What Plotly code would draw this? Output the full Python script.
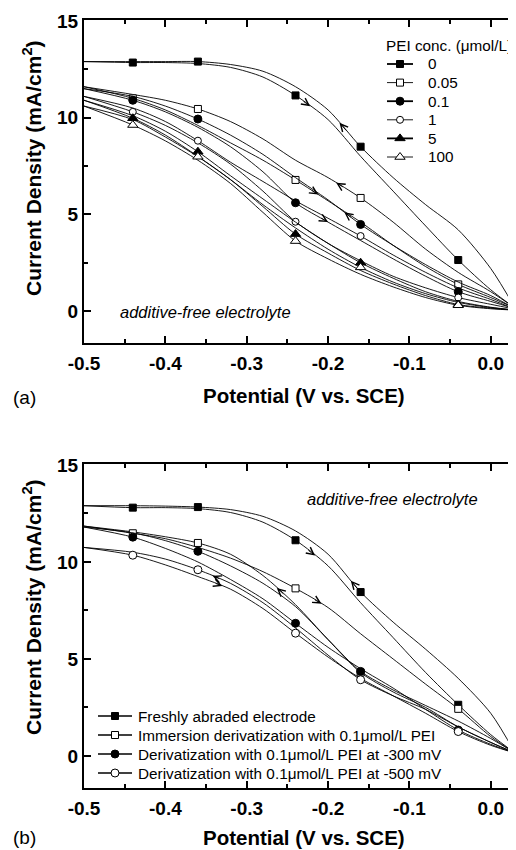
import numpy as np
import plotly.graph_objects as go

# ---------------- data ----------------
x_grid = [-0.5, -0.44, -0.4, -0.36, -0.32, -0.28, -0.24, -0.2, -0.16, -0.12, -0.08, -0.04, 0.0, 0.03]
fwd_marker_x = [-0.44, -0.24, -0.04]
rev_marker_x = [-0.36, -0.16]

# panel (a): PEI concentration (umol/L)
a_names = ["0", "0.05", "0.1", "1", "5", "100"]
a_fwd_0 = [12.9, 12.85, 12.85, 12.8, 12.6, 12.1, 11.15, 9.9, 8.0, 6.2, 4.4, 2.64, 1.1, 0.15]
a_rev_0 = [12.9, 12.9, 12.9, 12.9, 12.75, 12.4, 11.6, 10.4, 8.5, 6.9, 5.5, 4.2, 2.2, 0.15]
a_fwd_005 = [11.6, 11.0, 10.4, 9.6, 8.7, 7.8, 6.78, 5.7, 4.6, 3.4, 2.3, 1.38, 0.7, 0.15]
a_rev_005 = [11.6, 11.2, 10.9, 10.45, 9.8, 8.9, 7.8, 6.9, 5.85, 4.6, 3.2, 2.0, 1.0, 0.15]
a_fwd_01 = [11.5, 10.9, 10.3, 9.5, 8.5, 7.2, 5.6, 4.6, 3.65, 2.7, 1.8, 1.0, 0.5, 0.12]
a_rev_01 = [11.5, 11.1, 10.6, 9.93, 9.1, 8.1, 6.9, 5.75, 4.48, 3.4, 2.4, 1.5, 0.8, 0.12]
a_fwd_1 = [11.1, 10.3, 9.6, 8.7, 7.6, 6.2, 4.62, 3.5, 2.6, 1.8, 1.2, 0.7, 0.35, 0.1]
a_rev_1 = [11.1, 10.5, 9.8, 8.81, 7.7, 6.7, 5.7, 4.8, 3.88, 2.9, 2.0, 1.2, 0.6, 0.1]
a_fwd_5 = [10.9, 9.97, 9.1, 8.0, 6.8, 5.4, 3.98, 3.0, 2.1, 1.4, 0.8, 0.34, 0.15, 0.05]
a_rev_5 = [10.9, 10.1, 9.3, 8.24, 7.0, 5.8, 4.6, 3.5, 2.5, 1.7, 1.0, 0.5, 0.2, 0.05]
a_fwd_100 = [10.6, 9.62, 8.8, 7.8, 6.6, 5.1, 3.62, 2.7, 1.9, 1.25, 0.7, 0.3, 0.12, 0.05]
a_rev_100 = [10.6, 9.9, 9.0, 7.98, 6.8, 5.5, 4.3, 3.2, 2.26, 1.5, 0.9, 0.45, 0.18, 0.05]

# panel (b): electrode treatment
b_names = ["Freshly abraded electrode",
           "Immersion derivatization with 0.1\u03bcmol/L PEI",
           "Derivatization with 0.1\u03bcmol/L PEI at -300 mV",
           "Derivatization with 0.1\u03bcmol/L PEI at -500 mV"]
b_fwd_fresh = [12.9, 12.8, 12.8, 12.75, 12.55, 12.05, 11.12, 9.8, 7.9, 6.1, 4.3, 2.64, 1.1, 0.15]
b_rev_fresh = [12.9, 12.9, 12.88, 12.83, 12.7, 12.35, 11.6, 10.4, 8.45, 6.9, 5.5, 4.0, 2.2, 0.15]
b_fwd_imm = [11.85, 11.48, 11.2, 10.75, 10.2, 9.5, 8.64, 7.65, 6.3, 5.0, 3.7, 2.43, 1.0, 0.15]
b_rev_imm = [11.85, 11.55, 11.3, 10.98, 10.4, 9.3, 7.8, 6.0, 4.3, 3.3, 2.5, 1.5, 0.7, 0.15]
b_fwd_300 = [11.8, 11.28, 10.7, 10.0, 9.1, 8.1, 6.84, 5.6, 4.5, 3.5, 2.4, 1.34, 0.6, 0.15]
b_rev_300 = [11.8, 11.5, 11.1, 10.55, 9.8, 8.9, 7.7, 6.0, 4.36, 3.4, 2.6, 1.8, 0.9, 0.15]
b_fwd_500 = [10.75, 10.35, 9.85, 9.25, 8.6, 7.6, 6.33, 5.1, 4.0, 3.1, 2.2, 1.26, 0.55, 0.15]
b_rev_500 = [10.75, 10.5, 10.15, 9.6, 8.9, 7.9, 6.6, 5.2, 3.93, 3.1, 2.4, 1.5, 0.7, 0.15]

x_tick_vals = [-0.5, -0.4, -0.3, -0.2, -0.1, 0.0]
x_tick_labels = ["-0.5", "-0.4", "-0.3", "-0.2", "-0.1", "0.0"]
x_minor_vals = [-0.45, -0.35, -0.25, -0.15, -0.05]
y_tick_vals = [0, 5, 10, 15]
y_tick_labels = ["0", "5", "10", "15"]
y_minor_vals = [2.5, 7.5, 12.5]

legend_a_title = "PEI conc. (\u03bcmol/L)"

# arrows: (panel, series index, branch, x)
arrows = [
    ("a", 0, "fwd", -0.222), ("a", 0, "rev", -0.186),
    ("a", 1, "fwd", -0.212), ("a", 1, "rev", -0.19),
    ("a", 2, "fwd", -0.2), ("a", 2, "rev", -0.18),
    ("b", 0, "fwd", -0.216), ("b", 0, "rev", -0.172),
    ("b", 1, "fwd", -0.208), ("b", 1, "rev", -0.263),
    ("b", 3, "fwd", -0.33), ("b", 3, "rev", -0.342),
]

# ---------------- styles / layout ----------------
FONT = "Arial, Liberation Sans, Helvetica, sans-serif"
a_series = [(a_fwd_0, a_rev_0), (a_fwd_005, a_rev_005), (a_fwd_01, a_rev_01),
            (a_fwd_1, a_rev_1), (a_fwd_5, a_rev_5), (a_fwd_100, a_rev_100)]
b_series = [(b_fwd_fresh, b_rev_fresh), (b_fwd_imm, b_rev_imm),
            (b_fwd_300, b_rev_300), (b_fwd_500, b_rev_500)]
a_styles = [("square", "black", 7, 1.8), ("square", "white", 7, 0.9),
            ("circle", "black", 8, 1.8), ("circle", "white", 7, 0.9),
            ("triangle-up", "black", 9, 1.8), ("triangle-up", "white", 9, 0.9)]
b_styles = [("square", "black", 7, 1.3), ("square", "white", 7, 1.3),
            ("circle", "black", 8, 1.3), ("circle", "white", 8, 1.3)]

# page body adds an 8px margin: figure is drawn 8px right/down in the window
OFF = 8
W, H = 516 - OFF, 850 - OFF
PL, PR, PT, PB = 84, 516, 20, 788          # plot area in window pixels
L, R, T, B = PL - OFF, 516 - PR, PT - OFF, (850 - OFF) - (PB - OFF)
PW, PH = PR - PL, PB - PT


def px(wx):
    return (wx - PL) / PW


def py(wy):
    return (PB - wy) / PH


fig = go.Figure()


def pick(xs, xv, yv):
    return [yv[xv.index(v)] for v in xs]


def add_panel(series, styles, xa, ya):
    for (fwd, rev), (sym, fill, ms, lw) in zip(series, styles):
        for branch in (fwd, rev):
            fig.add_trace(go.Scatter(x=x_grid, y=branch, mode="lines",
                                     line=dict(color="black", width=0.9, shape="spline", smoothing=0.8),
                                     xaxis=xa, yaxis=ya, showlegend=False, hoverinfo="skip"))
        mx = fwd_marker_x + rev_marker_x
        my = pick(fwd_marker_x, x_grid, fwd) + pick(rev_marker_x, x_grid, rev)
        fig.add_trace(go.Scatter(x=mx, y=my, mode="markers",
                                 marker=dict(symbol=sym, color=fill, size=ms,
                                             line=dict(color="black", width=1)),
                                 xaxis=xa, yaxis=ya, showlegend=False, hoverinfo="skip"))


add_panel(a_series, a_styles, "x", "y")
add_panel(b_series, b_styles, "x2", "y2")

annotations = []

# hand-built legends on an invisible overlay axis measured in window pixels
legend_text_font = dict(family=FONT, size=15.3, color="black")


def add_legend(names, styles, x0, line_len, text_x, y0, dy):
    for i, (name, (sym, fill, ms, lw)) in enumerate(zip(names, styles)):
        yy = y0 + i * dy
        fig.add_trace(go.Scatter(x=[x0, x0 + line_len], y=[yy, yy], mode="lines",
                                 line=dict(color="black", width=lw),
                                 xaxis="x3", yaxis="y3", showlegend=False, hoverinfo="skip"))
        fig.add_trace(go.Scatter(x=[x0 + line_len / 2], y=[yy], mode="markers",
                                 marker=dict(symbol=sym, color=fill, size=ms,
                                             line=dict(color="black", width=1)),
                                 xaxis="x3", yaxis="y3", showlegend=False, hoverinfo="skip"))
        annotations.append(dict(x=px(text_x), y=py(yy), xref="paper", yref="paper",
                                text=name, showarrow=False, font=legend_text_font,
                                xanchor="left", yanchor="middle", borderpad=0))


add_legend(a_names, a_styles, 387, 26, 427, 64, 18.6)
annotations.append(dict(x=px(385), y=py(46), xref="paper", yref="paper",
                        text=legend_a_title, showarrow=False, font=legend_text_font,
                        xanchor="left", yanchor="middle", borderpad=0))
add_legend(b_names, b_styles, 98, 34, 137, 716, 19)

for panel, si, br, xv in arrows:
    fwd, rev = (a_series if panel == "a" else b_series)[si]
    yv = fwd if br == "fwd" else rev
    dx = -0.01 if br == "fwd" else 0.01
    xr, yr = ("x", "y") if panel == "a" else ("x2", "y2")
    annotations.append(dict(x=xv, y=float(np.interp(xv, x_grid, yv)),
                            ax=xv + dx, ay=float(np.interp(xv + dx, x_grid, yv)),
                            xref=xr, yref=yr, axref=xr, ayref=yr, text="",
                            showarrow=True, arrowhead=5, arrowsize=1.6, arrowwidth=0.9,
                            arrowcolor="black"))

bold = dict(family=FONT, size=21, color="black", weight="bold")
for yc in (168, 607):
    annotations.append(dict(x=px(32), y=py(yc), xref="paper", yref="paper", showarrow=False,
                            text="Current Density (mA/cm<sup>2</sup>)", textangle=-90,
                            font=bold, xanchor="center", yanchor="middle"))
for yc in (395, 837):
    annotations.append(dict(x=px(304), y=py(yc), xref="paper", yref="paper", showarrow=False,
                            text="Potential (V vs. SCE)", font=dict(bold, size=20.5),
                            xanchor="center", yanchor="middle"))
for lab, yc in (("(a)", 397), ("(b)", 837)):
    annotations.append(dict(x=px(11), y=py(yc), xref="paper", yref="paper", showarrow=False,
                            text=lab, font=dict(family=FONT, size=19, color="black"),
                            xanchor="left", yanchor="middle"))
for xl, yc in ((118, 312), (305, 499)):
    annotations.append(dict(x=px(xl), y=py(yc), xref="paper", yref="paper", showarrow=False,
                            text="<i>additive-free electrolyte</i>",
                            font=dict(family=FONT, size=16.5, color="black"),
                            xanchor="left", yanchor="middle"))

ax_common = dict(showline=True, linecolor="black", linewidth=2, mirror="ticks",
                 ticks="inside", ticklen=7, tickwidth=2, tickcolor="black",
                 showgrid=False, zeroline=False, fixedrange=True,
                 tickfont=dict(family=FONT, size=19, color="black", weight="bold"))
xa = dict(ax_common, range=[-0.5, 0.031], tickmode="array", tickvals=x_tick_vals,
          ticktext=x_tick_labels, ticklabelstandoff=2,
          minor=dict(tickmode="array", tickvals=x_minor_vals, ticks="inside",
                     ticklen=4, tickwidth=1.5, tickcolor="black"))
ya = dict(ax_common, mirror=False, range=[-1.65, 15.05], tickmode="array",
          tickvals=y_tick_vals, ticktext=y_tick_labels,
          minor=dict(tickmode="array", tickvals=y_minor_vals, ticks="inside",
                     ticklen=4, tickwidth=1.5, tickcolor="black"))
hidden = dict(visible=False, showgrid=False, zeroline=False, fixedrange=True)

fig.update_layout(
    width=W, height=H, margin=dict(l=L, r=R, t=T, b=B, autoexpand=False),
    paper_bgcolor="white", plot_bgcolor="rgba(0,0,0,0)",
    xaxis=dict(xa, anchor="y", domain=[0, 1]),
    yaxis=dict(ya, anchor="x", domain=[py(343), 1]),
    xaxis2=dict(xa, anchor="y2", domain=[0, 1]),
    yaxis2=dict(ya, anchor="x2", domain=[0, py(464)]),
    xaxis3=dict(hidden, anchor="y3", domain=[0, 1], range=[PL, PR]),
    yaxis3=dict(hidden, anchor="x3", domain=[0, 1], range=[PB, PT]),
    annotations=annotations,
    showlegend=False,
)

fig.write_html("out.html")
